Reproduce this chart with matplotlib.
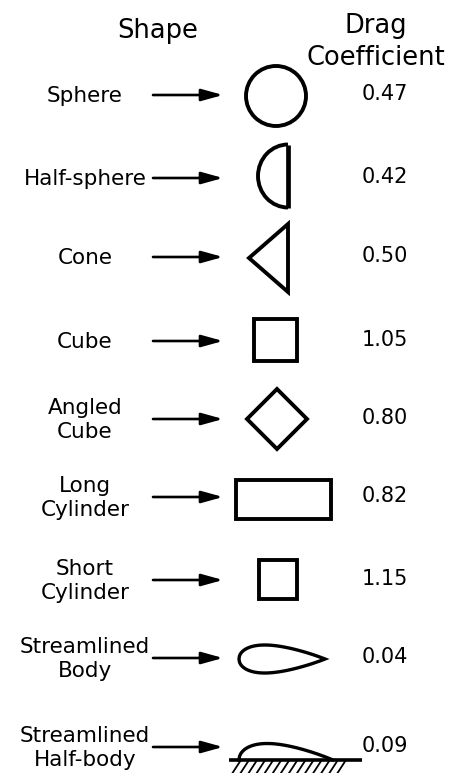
import numpy as np
import matplotlib.pyplot as plt
from matplotlib.patches import Circle, Arc, Polygon, Rectangle

# labels and drag coefficients
shapes = ["Sphere", "Half-sphere", "Cone", "Cube", "Angled\nCube",
          "Long\nCylinder", "Short\nCylinder", "Streamlined\nBody",
          "Streamlined\nHalf-body"]
drag_coeff = [0.47, 0.42, 0.50, 1.05, 0.80, 0.82, 1.15, 0.04, 0.09]
kinds = ["sphere", "half_sphere", "cone", "cube", "angled_cube",
         "long_cyl", "short_cyl", "streamlined", "half_body"]

# layout (pixel coords, y down)
row_y = [95, 178, 257, 341, 419, 497, 580, 658, 747]

fig = plt.figure(figsize=(4.49, 7.73), dpi=100)
ax = fig.add_axes([0, 0, 1, 1])
ax.set_xlim(0, 449)
ax.set_ylim(773, 0)
ax.axis("off")

LW = 2.8


def foil(x0, chord, half, n=200):
    # symmetric NACA-style thickness, scaled to given max half-thickness
    s = np.linspace(0, 1, n)
    t = 0.2969 * np.sqrt(s) - 0.1260 * s - 0.3516 * s**2 + 0.2843 * s**3 - 0.1036 * s**4
    t = t / t.max() * half
    return x0 + s * chord, t


def draw_shape(kind, y):
    if kind == "sphere":
        ax.add_patch(Circle((276, y + 1), 30, fill=False, lw=LW))
    elif kind == "half_sphere":
        ax.add_patch(Arc((288, y - 2), 60, 63, theta1=90, theta2=270, lw=LW))
        ax.plot([288, 288], [y - 33.5, y + 29.5], color="k", lw=3.4, solid_capstyle="butt")
    elif kind == "cone":
        ax.add_patch(Polygon([(288, y - 33), (288, y + 35), (249, y + 1)],
                             closed=True, fill=False, lw=LW, joinstyle="miter"))
    elif kind == "cube":
        ax.add_patch(Rectangle((254, y - 22), 43, 42, fill=False, lw=LW, joinstyle="miter"))
    elif kind == "angled_cube":
        ax.add_patch(Polygon([(277, y - 30), (307, y), (277, y + 30), (247, y)],
                             closed=True, fill=False, lw=LW, joinstyle="miter"))
    elif kind == "long_cyl":
        ax.add_patch(Rectangle((236, y - 17), 95, 39, fill=False, lw=LW, joinstyle="miter"))
    elif kind == "short_cyl":
        ax.add_patch(Rectangle((259, y - 20), 38, 39, fill=False, lw=LW, joinstyle="miter"))
    elif kind == "streamlined":
        xs, t = foil(239, 86, 14)
        px = np.concatenate([xs, xs[::-1]])
        py = np.concatenate([y + 1 - t, (y + 1 + t)[::-1]])
        ax.add_patch(Polygon(np.column_stack([px, py]), closed=True, fill=False,
                             lw=2.4, joinstyle="miter"))
    elif kind == "half_body":
        ground = 760
        xs, t = foil(239, 94, 16.5)
        ax.plot(xs, ground - t, color="k", lw=2.4)
        ax.plot([229, 362], [ground, ground], color="k", lw=2.6, solid_capstyle="butt")
        for hx in np.linspace(240, 345, 14):
            ax.plot([hx, hx - 7.5], [ground + 1.5, ground + 13], color="k", lw=1.3)


ax.text(158, 38, "Shape", fontsize=18.5, ha="center", va="baseline")
ax.text(376, 65, "Drag\nCoefficient", fontsize=18.5, ha="center", va="baseline",
        multialignment="center", linespacing=1.3)

for label, cd, kind, y in zip(shapes, drag_coeff, kinds, row_y):
    ax.text(85, y + 1, label, fontsize=15.5, ha="center", va="center",
            multialignment="center")
    ax.annotate("", xy=(223, y), xytext=(153, y),
                arrowprops=dict(arrowstyle="-|>,head_length=1.3,head_width=0.36",
                                mutation_scale=10, lw=1.9, color="k",
                                shrinkA=0, shrinkB=0))
    draw_shape(kind, y)
    ax.text(362, y - 1, f"{cd:.2f}", fontsize=15, ha="left", va="center")

fig.savefig("out.png", dpi=100)
